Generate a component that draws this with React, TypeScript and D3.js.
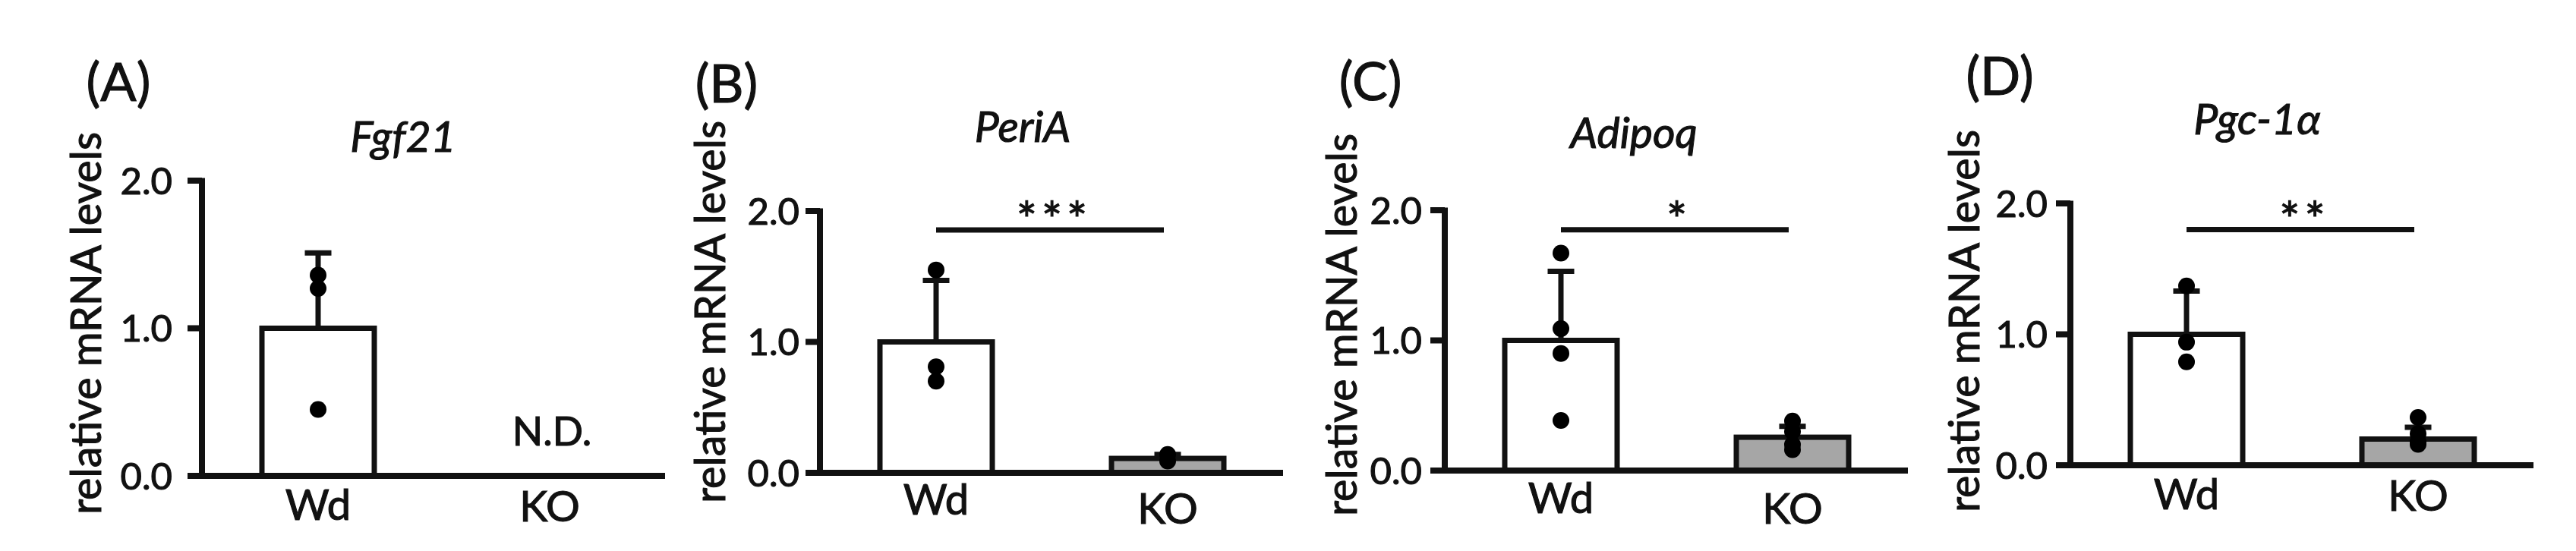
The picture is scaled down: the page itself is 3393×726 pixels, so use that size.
import React from 'react';
import * as d3 from 'd3';

// ---------- data ----------
const categories = ['Wd', 'KO'];
const panelLetters = ['(A)', '(B)', '(C)', '(D)'];
const genes = ['Fgf21', 'PeriA', 'Adipoq', 'Pgc-1α'];
const yTicks = [0, 1, 2];
const yTickLabels = ['0.0', '1.0', '2.0'];
const yAxisTitle = 'relative mRNA levels';

const meanWd = [1.0, 1.0, 1.0, 1.0];
const meanKO: (number | null)[] = [null, 0.11, 0.256, 0.2];
const errTopWd = [1.51, 1.47, 1.53, 1.33];
const errTopKO: (number | null)[] = [null, 0.14, 0.34, 0.29];
const pointsWd = [
  [1.36, 1.27, 0.45],
  [1.55, 0.81, 0.7],
  [1.67, 1.09, 0.9, 0.385],
  [1.37, 0.94, 0.79],
];
const pointsKO = [
  [],
  [0.14, 0.09],
  [0.38, 0.3, 0.2, 0.16],
  [0.365, 0.24, 0.18, 0.16],
];
const significance = ['', '***', '*', '**'];
const sigLevel: (number | null)[] = [null, 1.855, 1.85, 1.8];
const notDetected = ['N.D.', '', '', ''];

// ---------- layout ----------
const W = 3393;
const H = 726;
const layout = [
  { axisX: 266, y0: 627, yTop: 238, letterX: 156, letterY: 133, titleX: 531, titleY: 200, ylabX: 133, ylabY: 426, tickGap: 39, catY: [685, 687] },
  { axisX: 1080, y0: 623, yTop: 278, letterX: 957, letterY: 135, titleX: 1347, titleY: 187, ylabX: 955, ylabY: 411, tickGap: 27, catY: [678, 690] },
  { axisX: 1903, y0: 620, yTop: 277, letterX: 1805, letterY: 132, titleX: 2152, titleY: 195, ylabX: 1787, ylabY: 428, tickGap: 30, catY: [676, 690] },
  { axisX: 2727, y0: 613, yTop: 268, letterX: 2634, letterY: 125, titleX: 2973, titleY: 177, ylabX: 2607, ylabY: 423, tickGap: 30, catY: [671, 673] },
];
const FONT = 'Lato, "Open Sans", sans-serif';
const INK = '#111111';
const GRAY = '#a6a6a6';
const BAR_W = 148;
const TICK = 19;
const AXIS_LEN = 610;
const CAP_W = 35;
const DOT_R = 11;
const TXT = { fill: INK, fontFamily: FONT, stroke: INK, strokeWidth: 1.1 } as const;

function Panel({ i }: { i: number }) {
  const L = layout[i];
  const y = d3.scaleLinear().domain([0, 2]).range([L.y0, L.yTop]);
  const x = d3.scalePoint<string>().domain(categories).range([L.axisX + 153, L.axisX + 458]);
  const means = [meanWd[i], meanKO[i]];
  const errs = [errTopWd[i], errTopKO[i]];
  const pts = [pointsWd[i], pointsKO[i]];
  const fills = ['#ffffff', GRAY];
  return (
    <g>
      <text x={L.letterX} y={L.letterY} fontSize={70} textAnchor="middle" {...TXT}>{panelLetters[i]}</text>
      <text x={L.titleX} y={L.titleY} fontSize={57} fontStyle="italic" textAnchor="middle" {...TXT}>{genes[i]}</text>
      <text
        transform={`translate(${L.ylabX},${L.ylabY}) rotate(-90)`}
        fontSize={56}
        textAnchor="middle"
        {...TXT}
        textLength={504}
        lengthAdjust="spacingAndGlyphs"
      >{yAxisTitle}</text>
      {/* bars */}
      {categories.map((c, k) => {
        const m = means[k];
        if (m == null) return null;
        const cx = x(c)!;
        return (
          <rect key={'b' + k} x={cx - BAR_W / 2} y={y(m)} width={BAR_W} height={y(0) - y(m)} fill={fills[k]} stroke={INK} strokeWidth={7} />
        );
      })}
      {/* error bars */}
      {categories.map((c, k) => {
        const m = means[k];
        const e = errs[k];
        if (m == null || e == null) return null;
        const cx = x(c)!;
        return (
          <g key={'e' + k} stroke={INK} strokeWidth={7}>
            <line x1={cx} x2={cx} y1={y(m)} y2={y(e)} />
            <line x1={cx - CAP_W / 2} x2={cx + CAP_W / 2} y1={y(e)} y2={y(e)} />
          </g>
        );
      })}
      {/* axes */}
      <line x1={L.axisX} x2={L.axisX} y1={y(2) - 3.5} y2={y(0)} stroke={INK} strokeWidth={8} />
      <line x1={L.axisX - TICK} x2={L.axisX + AXIS_LEN} y1={y(0)} y2={y(0)} stroke={INK} strokeWidth={8} />
      {yTicks.map((t, k) => (
        <g key={'t' + k}>
          <line x1={L.axisX - TICK} x2={L.axisX} y1={y(t)} y2={y(t)} stroke={INK} strokeWidth={8} />
          <text x={L.axisX - L.tickGap} y={y(t)} dy="0.36em" fontSize={49} textAnchor="end" {...TXT}>{yTickLabels[k]}</text>
        </g>
      ))}
      {/* dots */}
      {categories.map((c, k) =>
        pts[k].map((v, j) => <circle key={'p' + k + '-' + j} cx={x(c)!} cy={y(v)} r={DOT_R} fill="#000" />)
      )}
      {/* category labels */}
      {categories.map((c, k) => (
        <text key={'c' + k} x={x(c)!} y={L.catY[k]} fontSize={56} textAnchor="middle" {...TXT}>{c}</text>
      ))}
      {notDetected[i] && (
        <text x={x('KO')! + 3} y={587} fontSize={53} textAnchor="middle" {...TXT}>{notDetected[i]}</text>
      )}
      {sigLevel[i] != null && (
        <g>
          <line x1={x('Wd')!} x2={x('KO')! - 5} y1={y(sigLevel[i]!)} y2={y(sigLevel[i]!)} stroke={INK} strokeWidth={7} />
          <text x={(x('Wd')! + x('KO')!) / 2 + 3} y={y(sigLevel[i]!) + 10} fontSize={64} letterSpacing={6} textAnchor="middle" {...TXT}>{significance[i]}</text>
        </g>
      )}
    </g>
  );
}

export default function App() {
  return (
    <svg width={W} height={H} viewBox={`0 0 ${W} ${H}`} style={{ position: 'absolute', left: 0, top: 0, display: 'block', background: '#fff' }}>
      <rect x={0} y={0} width={W} height={H} fill="#fff" />
      {[0, 1, 2, 3].map((i) => (
        <Panel key={i} i={i} />
      ))}
    </svg>
  );
}
